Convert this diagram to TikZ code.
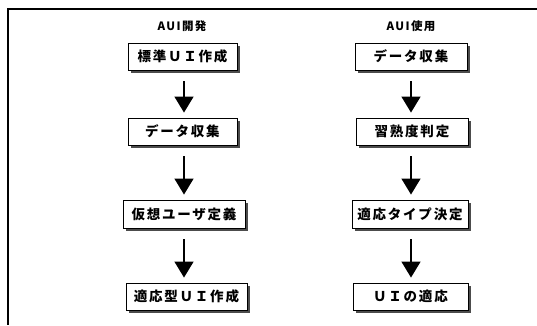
\documentclass[tikz,border=0pt]{standalone}
\usepackage{fontspec}
\newfontfamily\jp[LetterSpace=13]{Noto Sans CJK JP}
\newfontfamily\jptitle[LetterSpace=12]{Noto Sans CJK JP}
\usetikzlibrary{arrows.meta,shadows}
\tikzset{
  frameline/.style={line width=1.5pt,black},
  stepbox/.style={draw=black,line width=0.9pt,fill=white,inner sep=0pt,
    minimum height=27pt,
    font=\jp\bfseries\fontsize{13.5}{15}\selectfont,
    drop shadow={shadow xshift=3.2pt,shadow yshift=-3.2pt,fill=black!70,opacity=1}},
  coltitle/.style={inner sep=0pt,font=\jptitle\bfseries\fontsize{11.5}{13}\selectfont},
  flowarrow/.style={line width=1.5pt,-{Triangle[width=19pt,length=16pt]},
    shorten <=11pt,shorten >=5pt}
}
\begin{document}
\begin{tikzpicture}[x=1pt,y=-1pt]
\useasboundingbox (0,0) rectangle (537,325);
% frame (top and left edges only visible)
\coordinate (fTL) at (8,9);
\coordinate (fTR) at (537,9);
\coordinate (fBL) at (8,325);
\draw[frameline] (fTR) -- (fTL) -- (fBL);
% column titles
\node[coltitle] (tL) at (182,26.5) {AUI開発};
\node[coltitle] (tR) at (411,26.5) {AUI使用};
% left column
\node[stepbox,minimum width=109pt] (L1) at (182.5,56.5) {標準ＵＩ作成};
\node[stepbox,minimum width=109pt] (L2) at (182.5,131.5) {データ収集};
\node[stepbox,minimum width=122pt,minimum height=28pt] (L3) at (184,214) {仮想ユーザ定義};
\node[stepbox,minimum width=121pt] (L4) at (186.5,296.5) {適応型ＵＩ作成};
% right column
\node[stepbox,minimum width=112pt] (R1) at (411,56.5) {データ収集};
\node[stepbox,minimum width=112pt] (R2) at (412,131.5) {習熟度判定};
\node[stepbox,minimum width=116pt,minimum height=28pt] (R3) at (410,214) {適応タイプ決定};
\node[stepbox,minimum width=115pt] (R4) at (410.5,296.5) {ＵＩの適応};
% arrow axes
\coordinate (xL) at (184,0);
\coordinate (xR) at (411,0);
\draw[flowarrow] (L1.south -| xL) -- (L2.north -| xL);
\draw[flowarrow] (L2.south -| xL) -- (L3.north -| xL);
\draw[flowarrow] (L3.south -| xL) -- (L4.north -| xL);
\draw[flowarrow] (R1.south -| xR) -- (R2.north -| xR);
\draw[flowarrow] (R2.south -| xR) -- (R3.north -| xR);
\draw[flowarrow] (R3.south -| xR) -- (R4.north -| xR);
\end{tikzpicture}
\end{document}
